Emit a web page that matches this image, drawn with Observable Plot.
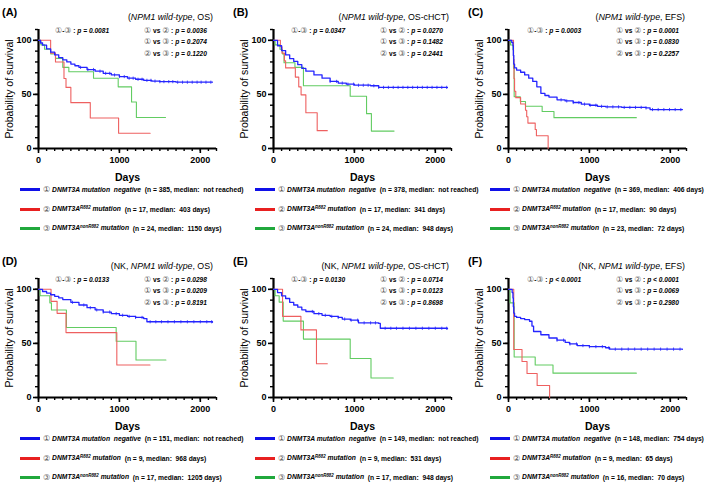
<!DOCTYPE html>
<html><head><meta charset="utf-8">
<script src="https://cdn.jsdelivr.net/npm/d3@7"></script>
<script src="https://cdn.jsdelivr.net/npm/@observablehq/plot@0.6"></script>
<style>
body{margin:0;background:#fff;}
#fig{position:relative;width:709px;height:488px;font-family:"Liberation Sans",Arial,sans-serif;color:#000;overflow:hidden;background:#fff}
.abs{position:absolute;white-space:nowrap;line-height:1}
.plab{font-weight:bold;font-size:11px}
.title{font-size:8.8px}
.pv{font-size:7px;font-weight:bold}
.circ{color:#555;font-weight:normal;font-family:"DejaVu Sans",sans-serif;font-size:1.2em;vertical-align:-0.05em}
.leg{font-size:7.6px;font-weight:bold}
.leg sup{font-size:0.66em;vertical-align:0.38em;line-height:0}
.legline{height:2.6px}
svg g[aria-label="y-axis label"]{font-weight:normal;font-size:10.5px}
svg g[aria-label="x-axis label"]{font-size:10.5px}
</style></head>
<body><div id="fig"></div>
<script>
// ---------- data ----------
const panelLetters = ["(A)","(B)","(C)","(D)","(E)","(F)"];
const titlePrefix = ["","","","NK, ","NK, ","NK, "];
const titleItalic = "NPM1 wild-type";
const titleEnd = ["OS","OS-cHCT","EFS","OS","OS-cHCT","EFS"];
const pOverall = ["p = 0.0081","p = 0.0347","p = 0.0003","p = 0.0133","p = 0.0130","p < 0.0001"];
const p12 = ["p = 0.0036","p = 0.0270","p = 0.0001","p = 0.0298","p = 0.0714","p < 0.0001"];
const p13 = ["p = 0.2074","p = 0.1482","p = 0.0830","p = 0.0209","p = 0.0123","p = 0.0069"];
const p23 = ["p = 0.1220","p = 0.2441","p = 0.2257","p = 0.8191","p = 0.8698","p = 0.2980"];
const nNeg = [385,378,369,151,149,148];
const medNeg = ["not reached","not reached","406 days","not reached","not reached","754 days"];
const nR882 = [17,17,17,9,9,9];
const medR882 = ["403 days","341 days","90 days","968 days","531 days","65 days"];
const nNon = [24,24,23,17,17,16];
const medNon = ["1150 days","948 days","72 days","1205 days","948 days","70 days"];
const xMajor = [0,1000,2000];
const yMajor = [0,50,100];

// survival curves: [day, percent]
const A_neg = [[0,100],[25,97.5],[50,95.5],[100,92],[150,89],[200,86.5],[250,84],[300,82],[350,80],[400,78],[450,76.5],[500,75],[600,73],[700,71.5],[800,69.5],[900,68],[1000,66.5],[1100,65],[1200,64],[1300,63],[1400,62.3],[1500,61.8],[1700,61.3],[2150,61.3]];
const A_r882 = [[0,100],[150,88.2],[210,80],[315,64.7],[340,56.5],[400,42.4],[640,28.2],[990,14.1],[1380,14.1]];
const A_non = [[0,100],[30,95.8],[75,91.7],[150,87.5],[210,83.3],[300,75],[375,71],[680,65],[985,57],[1150,43],[1210,28.6],[1570,28.6]];
const B_neg = [[0,100],[50,95],[100,90.5],[150,86.5],[200,83],[250,80.5],[300,77.5],[350,74],[400,71.5],[500,68],[600,65],[700,62],[800,60.5],[900,59.5],[1000,58.5],[1200,58],[1300,56.5],[2150,56.3]];
const B_r882 = [[0,100],[85,94.1],[105,88.2],[135,81],[150,74.5],[270,66],[312,57],[341,49.6],[400,33],[540,16.5],[665,16.5]];
const B_non = [[0,100],[20,95.8],[80,91.7],[110,87.5],[130,79.2],[265,75],[370,58],[948,48.3],[1150,32.2],[1210,16.1],[1490,16.1]];
const C_neg = [[0,100],[40,98],[55,95],[60,86],[65,78],[75,74.5],[100,72.5],[150,70.5],[200,68],[250,65],[300,62],[350,57],[400,51],[450,49],[500,47.5],[600,45],[700,44],[800,42.5],[900,41],[1000,40],[1100,39],[1200,38.5],[1400,38],[1700,37.5],[1750,36],[2150,36]];
const C_r882 = [[0,100],[62,82.4],[68,64.7],[75,52.9],[90,47],[150,41.2],[210,35.3],[225,29.4],[240,23.5],[330,17.6],[345,11.8],[490,0]];
const C_non = [[0,100],[25,95.7],[55,91.3],[62,73.9],[70,47.8],[146,43.5],[210,39.1],[416,34.2],[562,28.5],[1580,28.5]];
const D_neg = [[0,100],[50,98],[100,96.5],[150,95],[200,93.5],[250,92],[300,90.5],[400,88],[500,85.5],[600,83],[700,81],[800,79],[900,77.5],[1000,76],[1100,75],[1200,74],[1300,73],[1340,70],[2150,69.5]];
const D_r882 = [[0,100],[155,88.9],[230,77.8],[340,60],[968,30],[1378,30]];
const D_non = [[0,100],[20,94.1],[140,87.5],[160,80.9],[345,64.7],[960,52],[1205,34.7],[1575,34.7]];
const E_neg = [[0,100],[50,97],[100,94],[150,91.5],[200,88],[250,85.5],[300,83.5],[350,81],[400,79.5],[500,77.5],[600,76],[700,75],[800,74],[850,72.5],[950,71.5],[1050,69],[1300,68.5],[1320,64],[2150,63.5]];
const E_r882 = [[0,100],[112,75],[339,62.5],[531,31.2],[665,31.2]];
const E_non = [[0,100],[20,94.1],[70,88.2],[120,70.6],[370,54],[948,36],[1205,18],[1480,18]];
const F_neg = [[0,100],[45,97],[55,92],[60,84],[65,78],[75,75],[100,74],[150,73],[200,72],[260,70.5],[290,66],[310,61],[400,58],[500,55],[600,53],[700,51],[754,49.5],[850,48],[1000,47],[1200,46],[1250,44.7],[2150,44.5]];
const F_r882 = [[0,100],[65,44.4],[167,33.3],[229,22.2],[354,11.1],[508,0]];
const F_non = [[0,100],[20,87.5],[70,37.5],[330,30],[550,22.5],[1580,22.5]];

// censoring times (negative group)
const A_cens = [520,610,680,760,830,880,940,1000,1060,1120,1170,1230,1280,1340,1390,1440,1500,1550,1610,1660,1720,1780,1840,1900,1960,2010,2070,2130];
const B_cens = [700,780,850,920,990,1050,1110,1170,1240,1300,1360,1420,1480,1540,1600,1660,1720,1780,1840,1900,1960,2020,2080,2140];
const C_cens = [650,720,800,870,940,1010,1080,1150,1220,1290,1360,1430,1500,1570,1640,1700,1780,1850,1920,1990,2060,2130];
const D_cens = [420,560,640,720,800,880,960,1040,1120,1200,1280,1380,1450,1520,1600,1680,1760,1840,1920,2000,2080,2140];
const E_cens = [480,560,640,720,800,880,960,1040,1120,1200,1260,1380,1450,1520,1600,1680,1760,1840,1920,2000,2080,2140];
const F_cens = [600,680,760,840,920,1000,1080,1160,1240,1320,1400,1480,1560,1640,1720,1800,1880,1960,2040,2120];

const negCurves = [A_neg,B_neg,C_neg,D_neg,E_neg,F_neg];
const r882Curves = [A_r882,B_r882,C_r882,D_r882,E_r882,F_r882];
const nonCurves = [A_non,B_non,C_non,D_non,E_non,F_non];
const censors = [A_cens,B_cens,C_cens,D_cens,E_cens,F_cens];

const colNeg = "#2424ff", colR = "#ee6060", colN = "#62cc62";
const legNeg = "#1010e8", legR = "#e82020", legN = "#20a83c";

// ---------- helpers ----------
function survAt(curve, t){ let v = curve[0][1]; for (const [d,s] of curve){ if (d <= t) v = s; } return v; }
const tickSym = { draw(ctx, size){ const r = Math.sqrt(size/Math.PI); ctx.moveTo(0,-r); ctx.lineTo(0,r); } };

const fig = document.getElementById("fig");
function add(html, cls, left, top, extra=""){
  const d = document.createElement("div");
  d.className = "abs " + cls; d.style.left = left+"px"; d.style.top = top+"px";
  if (extra) d.style.cssText += extra;
  d.innerHTML = html; fig.appendChild(d); return d;
}
const colLeft = [0,236,472];
const svgLeft = [0,235,470];
const rowTop = [0,249];
const C = s => `<span class="circ">${s}</span>`;
const legDivs = [], pvDivs = [];
let legRef = null, pvRef = null;

for (let i = 0; i < 6; i++){
  const col = i % 3, row = Math.floor(i/3);
  const L = colLeft[col], T = rowTop[row];
  const svg = Plot.plot({
    width: 236, height: 184,
    marginLeft: 38, marginRight: 20, marginTop: 29, marginBottom: 36,
    x: {domain: [0,2200]}, y: {domain: [0,110]},
    style: {fontFamily: '"Liberation Sans", Arial, sans-serif', fontSize: "9px", fontWeight: "bold", color: "#000", background: "transparent", overflow: "visible"},
    marks: [
      Plot.axisY(d3.range(0,111,10), {tickSize: 3, tickFormat: () => "", strokeWidth: 1.4, label: null}),
      Plot.axisY(yMajor, {tickSize: 5, tickPadding: 2, strokeWidth: 1.6, tickFormat: "d", label: "Probability of survival", labelAnchor: "center", labelArrow: "none", labelOffset: 33}),
      Plot.axisX(d3.range(0,2201,100), {tickSize: 3, tickFormat: () => "", strokeWidth: 1.4, label: null}),
      Plot.axisX(xMajor, {tickSize: 5, tickPadding: 3, strokeWidth: 1.6, tickFormat: "d", label: "Days", labelAnchor: "center", labelArrow: "none", labelOffset: 32}),
      Plot.ruleX([0], {y1: 0, y2: 110, strokeWidth: 2.2}),
      Plot.ruleY([0], {x1: 0, x2: 2200, strokeWidth: 2.2}),
      Plot.line(nonCurves[i], {x: d => d[0], y: d => d[1], curve: "step-after", stroke: colN, strokeWidth: 1.1}),
      Plot.line(r882Curves[i], {x: d => d[0], y: d => d[1], curve: "step-after", stroke: colR, strokeWidth: 1.1}),
      Plot.line(negCurves[i], {x: d => d[0], y: d => d[1], curve: "step-after", stroke: colNeg, strokeWidth: 1.3}),
      Plot.dot(censors[i], {x: d => d, y: d => survAt(negCurves[i], d), symbol: tickSym, r: 1.6, stroke: colNeg, strokeWidth: 0.8, fill: "none"})
    ]
  });
  const wrap = document.createElement("div");
  wrap.className = "abs"; wrap.style.left = (svgLeft[col])+"px"; wrap.style.top = T+"px";
  wrap.appendChild(svg); fig.appendChild(wrap);

  // letter and title
  add(panelLetters[i], "plab", [2,233,468][col], T+7);
  add(`(${titlePrefix[i]}<i>${titleItalic}</i>, ${titleEnd[i]})`, "title", 0, T+12.5, `left:auto;right:${709-(L+213)}px`);
  // p-values
  pvDivs.push(add(`${C("①")}-${C("③")} : <i>${pOverall[i]}</i>`, "pv", L+55, T+26.5));
  const pa = add(`${C("①")} vs ${C("②")} : <i>${p12[i]}</i>`, "pv", L+144, T+26.5);
  pvDivs.push(pa, add(`${C("①")} vs ${C("③")} : <i>${p13[i]}</i>`, "pv", L+144, T+38));
  pvDivs.push(add(`${C("②")} vs ${C("③")} : <i>${p23[i]}</i>`, "pv", L+144, T+49.5));
  if (i === 0) pvRef = pa;
  // legend
  const ly = [189.5, 209.5, 228.5];
  const lcol = [legNeg, legR, legN];
  const ltext = [
    `${C("①")} <i>DNMT3A mutation&nbsp; negative</i>&nbsp; (n = ${nNeg[i]}, median:&nbsp; ${medNeg[i]})`,
    `${C("②")} <i>DNMT3A<sup>R882</sup> mutation</i>&nbsp; (n = ${nR882[i]}, median:&nbsp; ${medR882[i]})`,
    `${C("③")} <i>DNMT3A<sup>nonR882</sup> mutation</i>&nbsp; (n = ${nNon[i]}, median:&nbsp; ${medNon[i]})`
  ];
  const lx = [20,19,18][col];
  for (let k = 0; k < 3; k++){
    add("", "legline", L+lx, T+ly[k]-1.3, `width:20px;background:${lcol[k]}`);
    const d = add(ltext[k], "leg", L+lx+23, T+ly[k]-4.2);
    legDivs.push(d);
    if (i === 0 && k === 1) legRef = d;
  }
}
// fit font sizes to the reference's text widths
const legF = 7.6 * 167 / legRef.getBoundingClientRect().width;
legDivs.forEach(d => { d.style.fontSize = legF + "px"; d.style.top = (parseFloat(d.style.top) + (7.6 - legF)/2) + "px"; });
const pvF = 7 * 63 / pvRef.getBoundingClientRect().width;
pvDivs.forEach(d => { d.style.fontSize = pvF + "px"; });
</script></body></html>
